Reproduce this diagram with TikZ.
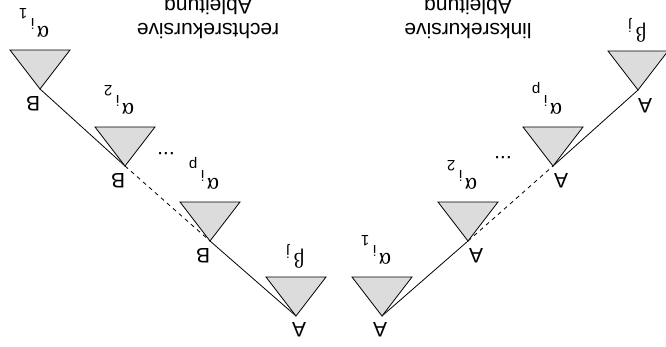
\documentclass[tikz,border=0pt]{standalone}
\usepackage{fontspec}
\setmainfont{Liberation Sans}
\newfontfamily\grk{Liberation Serif}
\definecolor{trifill}{RGB}{220,220,220}
\newcommand\alab[1]{\makebox[0pt]{\grk α}\rlap{\smash{\kern8.6pt\raisebox{-8.1pt}{\fontsize{15}{15}\selectfont i}\kern3.6pt\raisebox{-18.1pt}{\fontsize{15}{15}\selectfont #1}}}}
\newcommand\blab{\makebox[0pt]{\grk β}\rlap{\smash{\kern9.3pt\raisebox{-6.1pt}{\fontsize{15}{15}\selectfont j}}}}
\tikzset{
  conn/.style={line width=0.8pt},
  dconn/.style={line width=0.8pt, dash pattern=on 4pt off 4pt},
  tri/.style={fill=trifill, draw=black, line width=0.8pt, line join=miter},
  rot/.style={rotate=180, inner sep=0pt},
  sym/.style={rotate=180, inner sep=0pt, font=\fontsize{23}{26}\selectfont},
}
\begin{document}
\begin{tikzpicture}[x=1pt,y=-1pt,font=\fontsize{21}{25}\selectfont]
\useasboundingbox (0,0) rectangle (666,346);
% left group (image left)
\coordinate (p1) at (40,89);
\coordinate (p2) at (125,166);
\coordinate (p3) at (210,241);
\coordinate (p4) at (296,316);
% right group
\coordinate (q1) at (382,316);
\coordinate (q2) at (468,241);
\coordinate (q3) at (553,166);
\coordinate (q4) at (638,90);
% connectors
\draw[conn] (p1) -- (p2);
\draw[dconn] (p2) -- (p3);
\draw[conn] (p3) -- (p4);
\draw[conn] (q1) -- (q2);
\draw[dconn] (q2) -- (q3);
\draw[conn] (q3) -- (q4);
% triangles
\foreach \c in {p1,p2,p3,p4,q1,q2,q3,q4}{
  \filldraw[tri] (\c) -- ++(-30,-39) -- ++(60,0) -- cycle;
}
% node labels
\node[rot] (lb1) at (33,104) {B};
\node[rot] (lb2) at (118,181) {B};
\node[rot] (lb3) at (203,256) {B};
\node[rot] (la4) at (299,330) {A};
\node[rot] (ra1) at (380,330) {A};
\node[rot] (ra2) at (476,256) {A};
\node[rot] (ra3) at (561,181) {A};
\node[rot] (ra4) at (645,106) {A};
% subtree labels
\node[sym] (ls1) at (43,32) {\alab{1}};
\node[sym] (ls2) at (128,109) {\alab{2}};
\node[sym] (ls3) at (213,184) {\alab{p}};
\node[sym, font=\fontsize{21}{25}\selectfont] (ls4) at (299,259) {\blab};
\node[sym] (rs1) at (385,259) {\alab{1}};
\node[sym] (rs2) at (471,184) {\alab{2}};
\node[sym] (rs3) at (556,109) {\alab{p}};
\node[sym, font=\fontsize{21}{25}\selectfont] (rs4) at (641,33) {\blab};
% dots
\node[rot, anchor=base] (ldots) at (166,152) {...};
\node[rot, anchor=base] (rdots) at (503,156) {...};
% captions
\node[rot, anchor=base] (lcap1) at (208,23) {rechtsrekursive};
\node[rot, anchor=base] (lcap2) at (208,-1) {Ableitung};
\node[rot, anchor=base] (rcap1) at (468,23) {linksrekursive};
\node[rot, anchor=base] (rcap2) at (468,-1) {Ableitung};
\end{tikzpicture}
\end{document}
